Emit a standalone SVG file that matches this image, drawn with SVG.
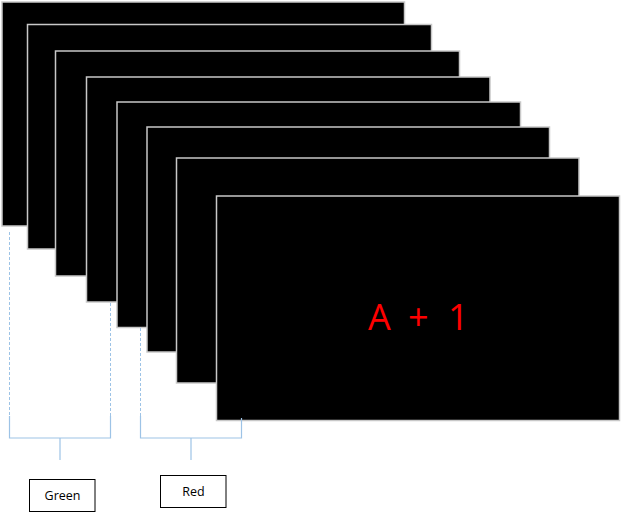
<svg xmlns="http://www.w3.org/2000/svg" width="624" height="521" viewBox="0 0 624 521">
<style>
.slide{fill:#000;stroke:#c8c8c8;stroke-width:1.5}
.dash{stroke:#9dc3e6;stroke-width:1;stroke-dasharray:3,2;fill:none}
.brk{stroke:#9dc3e6;stroke-width:1.2;fill:none}
.lbl{fill:#fff;stroke:#000;stroke-width:1}
.lt{font-family:"Open Sans","Liberation Sans",sans-serif;font-size:12.5px;fill:#000;text-anchor:middle}
.big{font-family:"Open Sans","Liberation Sans",sans-serif;font-size:36px;fill:#ff0000}
</style>
<rect width="624" height="521" fill="#fff"/>
<g id="slide1"><rect class="slide" x="2" y="2" width="402.5" height="224"/></g>
<g id="slide2"><rect class="slide" x="27.5" y="24.5" width="404" height="224.5"/></g>
<g id="slide3"><rect class="slide" x="55.5" y="51" width="404" height="225"/></g>
<g id="slide4"><rect class="slide" x="86.5" y="77" width="403.5" height="225"/></g>
<g id="slide5"><rect class="slide" x="117" y="102" width="403.5" height="225.5"/></g>
<g id="slide6"><rect class="slide" x="147" y="127" width="402.5" height="225"/></g>
<g id="slide7"><rect class="slide" x="176.5" y="158" width="402.5" height="225"/></g>
<g id="slide8"><rect class="slide" x="216.5" y="196" width="403" height="224.5"/>
<text class="big"><tspan x="368" y="330">A</tspan><tspan x="408" y="330">+</tspan><tspan x="448" y="330">1</tspan></text></g>
<g id="connectors">
<line class="dash" x1="9.5" y1="232" x2="9.5" y2="416"/>
<line class="dash" x1="110.5" y1="303" x2="110.5" y2="416"/>
<line class="dash" x1="140.5" y1="328" x2="140.5" y2="416"/>
<path class="brk" d="M9.5 416 V438 H110.5 V416 M60 438 V460"/>
<path class="brk" d="M140.5 416 V438 H241.5 V418 M191 438 V460"/>
</g>
<g id="green"><rect class="lbl" x="29.5" y="479.5" width="65.5" height="32"/><text class="lt" x="62.5" y="499.5">Green</text></g>
<g id="red"><rect class="lbl" x="160.5" y="475.5" width="65.5" height="32"/><text class="lt" x="193.5" y="495.5">Red</text></g>
</svg>
